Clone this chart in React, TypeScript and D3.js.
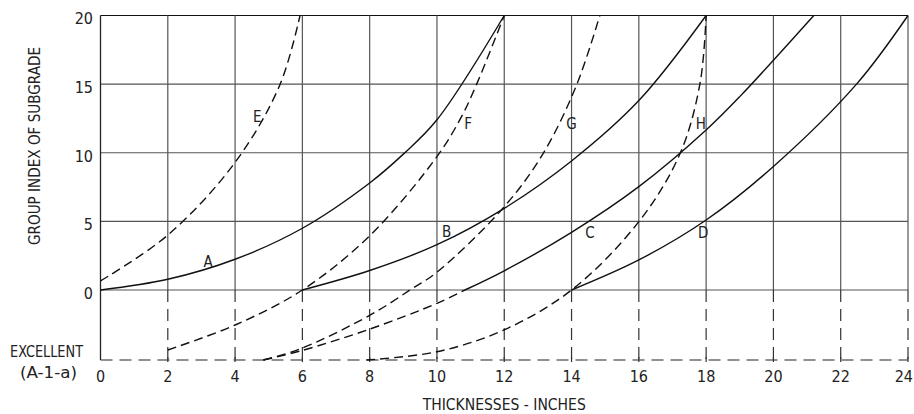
import React from 'react';
import * as d3 from 'd3';

type Pt = [number, number];

// Tick values
const xTicks = [0, 2, 4, 6, 8, 10, 12, 14, 16, 18, 20, 22, 24];
const yTicks = [0, 5, 10, 15, 20];
const excellentLevel = -5.1;
const excellentLabel = ['EXCELLENT', '(A-1-a)'];
const xTitle = 'THICKNESSES  -  INCHES';
const yTitle = 'GROUP INDEX OF SUBGRADE';

// Solid curves (thickness, group index)
const curveA: Pt[] = [[0, 0], [2, 0.78], [4, 2.24], [6, 4.5], [8, 7.8], [9, 9.9], [10, 12.4], [12, 20]];
const curveB: Pt[] = [[6, 0], [8, 1.42], [10, 3.3], [12, 5.95], [14, 9.4], [16, 13.8], [18, 20]];
const curveC: Pt[] = [[10.83, 0], [12, 1.4], [14, 4.2], [16, 7.53], [18, 11.66], [19, 14.09], [21.2, 20]];
const curveD: Pt[] = [[14, 0], [16, 2.19], [18, 5.1], [20, 9.0], [22.47, 15], [24, 20]];

// Dashed curves
const curveE: Pt[] = [[0, 0.66], [2, 4.0], [4, 9.3], [5.33, 14.94], [5.93, 20]];
const curveF: Pt[] = [[2, -4.37], [4, -2.55], [6, 0], [8, 3.95], [10, 9.72], [10.73, 12.63], [11.18, 15], [12, 20]];
const curveG: Pt[] = [[4.84, -5.1], [5.93, -4.3], [8, -1.85], [9.2, 0], [10, 1.3], [12, 6.07], [13.16, 9.96], [14.15, 14.94], [14.84, 20]];
const curveCLower: Pt[] = [[4.84, -5.1], [5.93, -4.45], [8, -2.85], [10, -0.97], [10.83, 0]];
const curveH: Pt[] = [[7.9, -5.1], [10, -4.5], [12, -2.9], [14, 0], [16, 4.98], [17.22, 9.91], [17.82, 15.07], [18, 20]];

const solidCurves = [curveA, curveB, curveC, curveD];
const dashedCurves = [curveE, curveF, curveG, curveCLower, curveH];

const curveLabels = ['A', 'B', 'C', 'D', 'E', 'F', 'G', 'H'];
const labelX = [3.2, 10.29, 14.55, 17.91, 4.66, 10.93, 14.0, 17.84];
const labelY = [2.05, 4.24, 4.17, 4.17, 12.6, 12.1, 12.1, 12.1];

const FONT = "'Liberation Sans Narrow','DejaVu Sans Condensed','Arial Narrow',sans-serif";

export default function App() {
  const W = 914;
  const H = 414;
  const x = d3.scaleLinear().domain([0, 24]).range([100.5, 908]);
  const y = d3.scaleLinear().domain([0, 20]).range([290, 15.5]);
  const line = d3
    .line<Pt>()
    .x((d) => x(d[0]))
    .y((d) => y(d[1]))
    .curve(d3.curveCatmullRom.alpha(0.5));

  const gridColor = '#555';
  const x0 = x(0);
  const x24 = x(24);
  const yEx = y(excellentLevel);

  return (
    <svg
      width={W}
      height={H}
      style={{ position: 'absolute', left: 0, top: 0, background: '#fff' }}
      fontFamily={FONT}
    >
      <rect x={0} y={0} width={W} height={H} fill="#fff" />
      {/* horizontal grid lines */}
      {yTicks.map((t) => (
        <line
          key={'h' + t}
          x1={x0}
          x2={x24}
          y1={y(t)}
          y2={y(t)}
          stroke={t === 20 ? '#111' : gridColor}
          strokeWidth={1.2}
        />
      ))}
      {/* excellent dashed line */}
      <line x1={x0} x2={x24} y1={yEx} y2={yEx} stroke="#222" strokeWidth={1.2} strokeDasharray="12,7" />
      {/* vertical grid lines */}
      {xTicks.filter((t) => t > 0).map((t) => (
        <g key={'v' + t}>
          <line x1={x(t)} x2={x(t)} y1={y(20)} y2={y(0)} stroke={gridColor} strokeWidth={1.2} />
          <line x1={x(t)} x2={x(t)} y1={y(0)} y2={yEx} stroke="#333" strokeWidth={1.2} strokeDasharray="12,7" />
          <line x1={x(t)} x2={x(t)} y1={yEx - 3} y2={yEx + 2} stroke="#333" strokeWidth={1.2} />
        </g>
      ))}
      {/* y axis */}
      <line x1={x0} x2={x0} y1={y(20)} y2={yEx} stroke="#222" strokeWidth={1.3} />

      {/* curves */}
      {solidCurves.map((c, i) => (
        <path key={'s' + i} d={line(c) || ''} fill="none" stroke="#111" strokeWidth={1.4} />
      ))}
      {dashedCurves.map((c, i) => (
        <path key={'d' + i} d={line(c) || ''} fill="none" stroke="#111" strokeWidth={1.4} strokeDasharray="9,5" />
      ))}

      {/* curve labels */}
      {curveLabels.map((l, i) => (
        <text
          key={'l' + l}
          x={x(labelX[i])}
          y={y(labelY[i])}
          dy="0.36em"
          textAnchor="middle"
          fontSize={15}
          fill="#222"
        >
          {l}
        </text>
      ))}

      {/* y tick labels */}
      {yTicks.map((t) => (
        <text key={'yt' + t} x={93} y={y(t) + 3} dy="0.36em" textAnchor="end" fontSize={16} fill="#222">
          {t}
        </text>
      ))}
      <text x={46.5} y={351} dy="0.36em" textAnchor="middle" fontSize={16} fill="#222" textLength={73} lengthAdjust="spacingAndGlyphs">
        {excellentLabel[0]}
      </text>
      <text x={48.5} y={372} dy="0.36em" textAnchor="middle" fontSize={16} fill="#222" textLength={57} lengthAdjust="spacingAndGlyphs">
        {excellentLabel[1]}
      </text>

      {/* x tick labels */}
      {xTicks.map((t, i) => {
        const last = i === xTicks.length - 1;
        return (
          <text
            key={'xt' + t}
            x={last ? W - 1 : x(t)}
            y={376}
            dy="0.36em"
            textAnchor={last ? 'end' : 'middle'}
            fontSize={16}
            fill="#222"
          >
            {t}
          </text>
        );
      })}

      {/* axis titles */}
      <text x={x(12)} y={405} dy="0.36em" textAnchor="middle" fontSize={15} fill="#222" textLength={163} lengthAdjust="spacingAndGlyphs">
        {xTitle}
      </text>
      <text
        transform="translate(35,146) rotate(-90)"
        dy="0.36em"
        textAnchor="middle"
        fontSize={15}
        fill="#222"
        textLength={198}
        lengthAdjust="spacingAndGlyphs"
      >
        {yTitle}
      </text>
    </svg>
  );
}
